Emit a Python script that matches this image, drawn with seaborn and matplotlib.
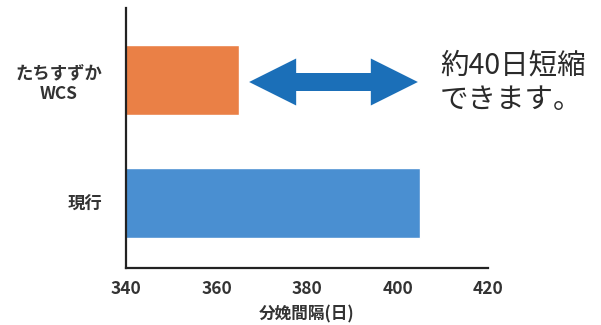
import matplotlib
matplotlib.use("Agg")
import matplotlib.pyplot as plt
from matplotlib.patches import Polygon
from matplotlib.transforms import blended_transform_factory
import seaborn as sns
import pandas as pd

# Calving interval by feeding program
groups = ["たちすずか\nWCS", "現行"]
interval_days = [365, 405]
bar_colors = ["#EA8046", "#4A8FD1"]
x_ticks = [340, 360, 380, 400, 420]
x_label = "分娩間隔(日)"
note_lines = ["約40日短縮", "できます。"]

sns.set_theme(style="white")
plt.rcParams["font.family"] = ["Noto Sans CJK JP", "DejaVu Sans"]

df = pd.DataFrame({"group": groups, "days": interval_days})

fig = plt.figure(figsize=(6.01, 3.25), dpi=100)
fig.patch.set_facecolor("white")
ax = fig.add_axes([0.2097, 0.1754, 0.6023, 0.8000])

sns.barplot(data=df, x="days", y="group", hue="group", palette=bar_colors,
            width=0.57, orient="h", legend=False, ax=ax, saturation=1)

ax.set_xlim(x_ticks[0], x_ticks[-1])
ax.set_ylim(1.53, -0.585)
ax.set_xticks(x_ticks)
ax.set_xticklabels([str(t) for t in x_ticks], fontsize=12.5,
                   fontweight="bold", color="#333333")
ax.set_yticks(range(len(groups)))
ax.set_yticklabels(groups, fontsize=12.5, fontweight="bold",
                   color="#333333", multialignment="center", linespacing=1.2)
ax.tick_params(axis="both", length=0)
ax.tick_params(axis="y", pad=17)
ax.tick_params(axis="x", pad=9)
ax.set_xlabel(x_label, fontsize=12, fontweight="bold", color="#333333",
              labelpad=5)
ax.set_ylabel("")

for side in ["top", "right"]:
    ax.spines[side].set_visible(False)
for side in ["left", "bottom"]:
    ax.spines[side].set_color("#222222")
    ax.spines[side].set_linewidth(1.6)

# Double-headed arrow spanning the gap between the two intervals:
# x in data units, y in inches from the bottom of the figure.
arrow_color = "#1B6FB8"
x0, x1 = interval_days[0] + 2.2, interval_days[1] - 0.5
head_len = 10.4
yc, half_head, half_shaft = 2.43, 0.235, 0.09
verts = [
    (x0, yc),
    (x0 + head_len, yc + half_head),
    (x0 + head_len, yc + half_shaft),
    (x1 - head_len, yc + half_shaft),
    (x1 - head_len, yc + half_head),
    (x1, yc),
    (x1 - head_len, yc - half_head),
    (x1 - head_len, yc - half_shaft),
    (x0 + head_len, yc - half_shaft),
    (x0 + head_len, yc - half_head),
]
trans = blended_transform_factory(ax.transData, fig.dpi_scale_trans)
ax.add_patch(Polygon(verts, closed=True, transform=trans, facecolor=arrow_color,
                     edgecolor="none", clip_on=False))

fig.text(440 / 601, 1 - 51 / 325, note_lines[0], fontsize=20.5,
         color="#2a2a2a", ha="left", va="top")
fig.text(440 / 601, 1 - 85 / 325, note_lines[1], fontsize=20.5,
         color="#2a2a2a", ha="left", va="top")

fig.savefig("out.png", dpi=100, facecolor="white")
